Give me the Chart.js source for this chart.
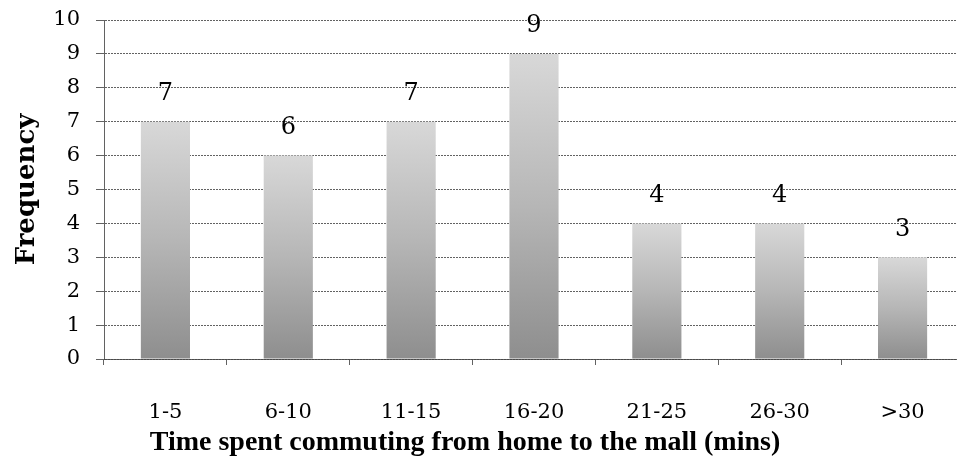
<!DOCTYPE html>
<html>
<head>
    <title>Commuting time histogram</title>
    <script src="https://cdn.jsdelivr.net/npm/chart.js"></script>
    <style>
        body { margin: 0; overflow: hidden; background: #fff; }
        #chart-container { width: 964px; height: 457px; }
    </style>
</head>
<body>
    <div id="chart-container">
        <canvas id="commuteChart"></canvas>
    </div>

    <script>
    // 通勤時間の区間と人数
    const categories = ['1-5', '6-10', '11-15', '16-20', '21-25', '26-30', '>30'];
    const frequency = [7, 6, 7, 9, 4, 4, 3];
    const yTicks = [0, 1, 2, 3, 4, 5, 6, 7, 8, 9, 10];
    const xTitle = 'Time spent commuting from home to the mall (mins)';

    const serif = "'DejaVu Serif', serif";
    const titleSerif = "'Liberation Serif', serif";
    const gridColor = 'rgba(70,70,70,0.85)';

    // 棒ごとに上が明るく下が暗いグラデーション
    function barFill(ctx) {
        const chart = ctx.chart;
        const area = chart.chartArea;
        if (!area || ctx.parsed === undefined) return '#b0b0b0';
        const y = chart.scales.y;
        const top = y.getPixelForValue(ctx.parsed.y);
        const bottom = y.getPixelForValue(0);
        const g = chart.ctx.createLinearGradient(0, top, 0, bottom);
        g.addColorStop(0, '#d8d8d8');
        g.addColorStop(0.5, '#b6b6b6');
        g.addColorStop(1, '#8e8e8e');
        return g;
    }

    // 棒の上に値を書く + 横軸タイトル
    const valueLabels = {
        id: 'valueLabels',
        afterDatasetsDraw(chart) {
            const c = chart.ctx;
            const meta = chart.getDatasetMeta(0);
            c.save();
            c.font = '24px ' + serif;
            c.fillStyle = '#000';
            c.textAlign = 'center';
            c.textBaseline = 'middle';
            meta.data.forEach((bar, i) => {
                c.fillText(String(frequency[i]), bar.x, bar.y - 28);
            });
            c.font = 'bold 28px ' + titleSerif;
            c.fillText(xTitle, 465, 443);
            c.restore();
        }
    };

    function createChart() {
        const chartCanvas = document.getElementById('commuteChart');
        new Chart(chartCanvas, {
            type: 'bar',
            data: {
                labels: categories,
                datasets: [{
                    data: frequency,
                    backgroundColor: barFill,
                    borderWidth: 0,
                    categoryPercentage: 1,
                    barPercentage: 0.4
                }]
            },
            options: {
                responsive: true,
                maintainAspectRatio: false,
                animation: false,
                layout: { padding: { top: 20, right: 0, bottom: 0, left: 0 } },
                plugins: {
                    legend: { display: false },
                    tooltip: { enabled: false }
                },
                scales: {
                    x: {
                        grid: {
                            drawOnChartArea: false,
                            drawTicks: true,
                            tickLength: 6,
                            color: gridColor
                        },
                        border: { color: gridColor, dash: [2, 1] },
                        ticks: {
                            color: '#000',
                            padding: 35,
                            font: { family: serif, size: 21 }
                        },
                        afterFit(scale) {
                            scale.height = 98;
                            scale.paddingLeft = 0;
                            scale.paddingRight = 0;
                        }
                    },
                    y: {
                        min: 0,
                        max: 10,
                        afterBuildTicks(scale) {
                            scale.ticks = yTicks.map(v => ({ value: v }));
                        },
                        grid: {
                            color: gridColor,
                            tickLength: 8
                        },
                        border: { color: gridColor, dash: [2, 1] },
                        ticks: {
                            color: '#000',
                            padding: 16,
                            font: { family: serif, size: 21 }
                        },
                        title: {
                            display: true,
                            text: 'Frequency',
                            color: '#000',
                            padding: { top: 12, bottom: 0 },
                            font: { family: serif, size: 26, weight: 'bold' }
                        },
                        afterFit(scale) {
                            scale.width = 104;
                            scale.paddingTop = 0;
                            scale.paddingBottom = 0;
                        }
                    }
                }
            },
            plugins: [valueLabels]
        });
    }

    window.onload = () => {
        createChart();
    };
    </script>
</body>
</html>
